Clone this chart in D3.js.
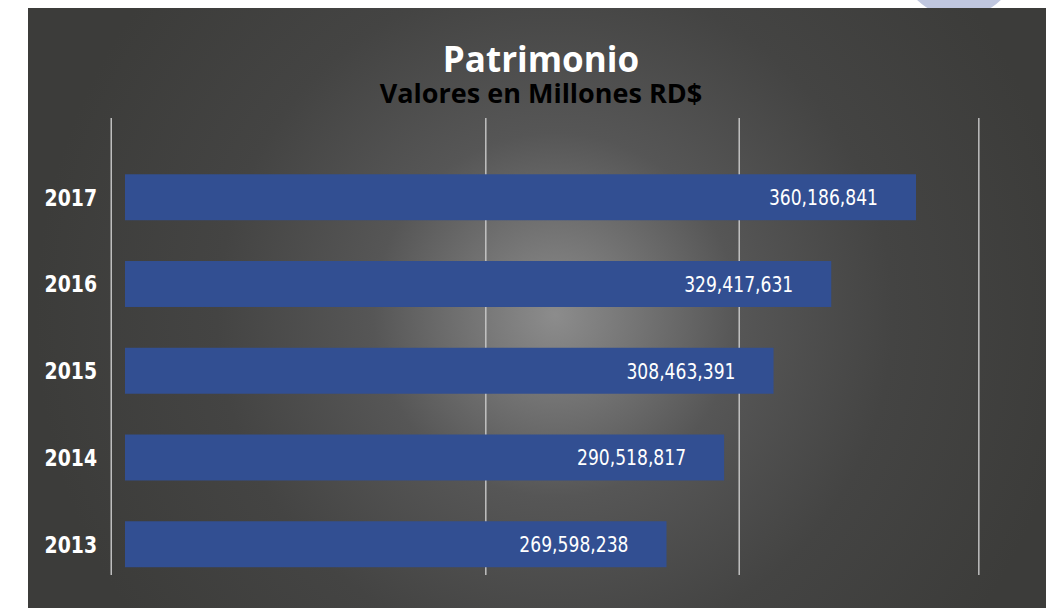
<!DOCTYPE html>
<html>
<head>
<meta charset="utf-8">
<script src="https://cdn.jsdelivr.net/npm/d3@7"></script>
<style>
  html, body { margin: 0; padding: 0; background: #ffffff; }
  svg { display: block; }
</style>
</head>
<body>
<svg id="chart" width="1046" height="608"></svg>
<script>
// ---- data ----
const years = ["2017", "2016", "2015", "2014", "2013"];
const patrimonio = [360186841, 329417631, 308463391, 290518817, 269598238];
const gridValues = [68e6, 204e6, 296e6, 383e6];
const baseValue = 73e6;
const titleText = "Patrimonio";
const subtitleText = "Valores en Millones RD$";

const svg = d3.select("#chart");
const W = 1046, H = 608;
const panel = { x: 28, y: 8, w: W - 28, h: H - 8 };

// decorative circle top-right (behind panel)
svg.append("circle").attr("cx", 959).attr("cy", -43).attr("r", 60).attr("fill", "#c0c7df");

// background gradient
const defs = svg.append("defs");
const grad = defs.append("radialGradient").attr("id", "bg")
  .attr("gradientUnits", "userSpaceOnUse")
  .attr("cx", 555).attr("cy", 315).attr("r", 520);
[[0, "#8c8c8c"], [0.12, "#7a7a7a"], [0.35, "#565656"], [0.65, "#444443"], [1, "#3c3c3a"]]
  .forEach(([o, c]) => grad.append("stop").attr("offset", o).attr("stop-color", c));

svg.append("rect").attr("x", panel.x).attr("y", panel.y)
  .attr("width", panel.w).attr("height", panel.h).attr("fill", "url(#bg)");

// scales
const x = d3.scaleLinear().domain([baseValue, patrimonio[0]]).range([125, 916]);
const y = d3.scaleBand().domain(years).range([133.5, 608]).paddingInner(0.47).paddingOuter(0.47);

// gridlines
svg.append("g").selectAll("line").data(gridValues).join("line")
  .attr("x1", d => x(d)).attr("x2", d => x(d))
  .attr("y1", 118).attr("y2", 575)
  .attr("stroke", "#c9c9c9").attr("stroke-width", 1.4);

const data = years.map((yr, i) => ({ year: yr, value: patrimonio[i] }));

// bars
svg.append("g").selectAll("rect").data(data).join("rect")
  .attr("x", x(baseValue))
  .attr("y", d => y(d.year))
  .attr("width", d => x(d.value) - x(baseValue))
  .attr("height", y.bandwidth())
  .attr("fill", "#324f92");

const font = "'DejaVu Sans', sans-serif";

// value labels (horizontally condensed)
svg.append("g").selectAll("text").data(data).join("text")
  .attr("transform", d => `translate(${x(d.value) - 38},${y(d.year) + y.bandwidth() / 2}) scale(0.78,1)`)
  .attr("dy", "0.36em")
  .attr("text-anchor", "end")
  .attr("fill", "#ffffff")
  .style("font-family", font)
  .style("font-size", "22px")
  .text(d => d3.format(",")(d.value));

// year labels (horizontally condensed)
svg.append("g").selectAll("text").data(data).join("text")
  .attr("transform", d => `translate(97,${y(d.year) + y.bandwidth() / 2}) scale(0.82,1)`)
  .attr("dy", "0.36em")
  .attr("text-anchor", "end")
  .attr("fill", "#ffffff")
  .style("font-family", font)
  .style("font-weight", "bold")
  .style("font-size", "23px")
  .text(d => d.year);

// titles (one text block, two lines)
const title = svg.append("text").attr("text-anchor", "middle")
  .style("font-family", "'Open Sans', sans-serif").style("font-weight", "bold");
title.append("tspan").attr("x", 541).attr("y", 72)
  .attr("fill", "#ffffff").style("font-size", "35px").text(titleText);
title.append("tspan").attr("x", 541).attr("y", 103)
  .attr("fill", "#000000").style("font-size", "27px").text(subtitleText);
</script>
</body>
</html>
